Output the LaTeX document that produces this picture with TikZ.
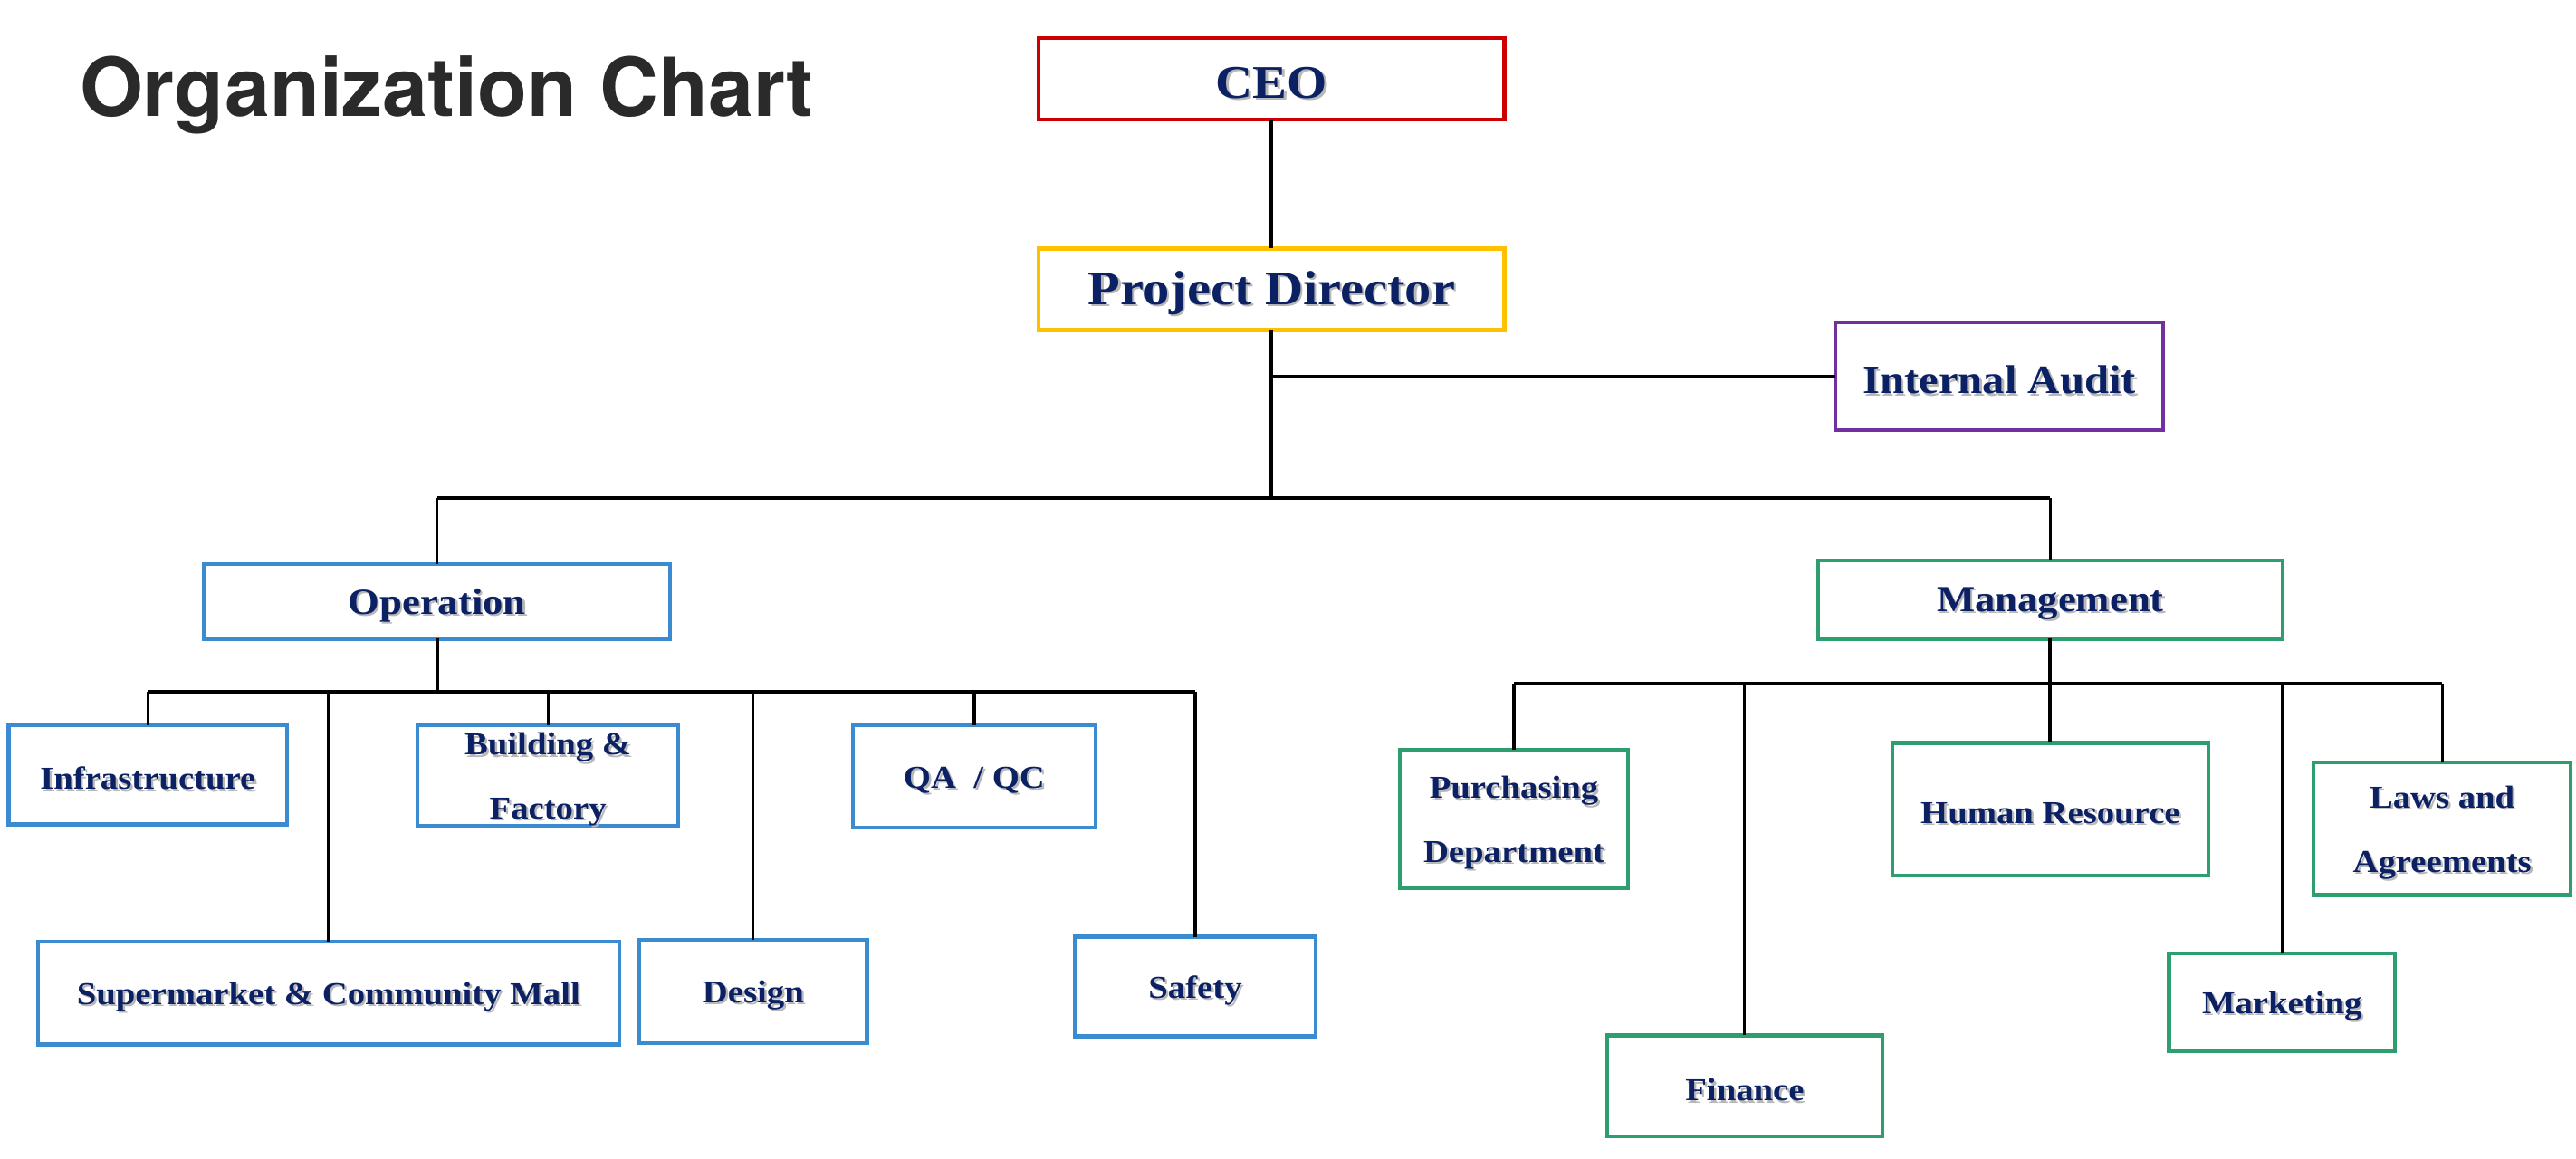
\documentclass[tikz,border=0pt]{standalone}
\usepackage{fontspec}
\setmainfont{Liberation Serif}
\newfontfamily\boxfont[FakeStretch=1.1]{Liberation Serif}
\newfontfamily\titlefont{TeX Gyre Heros}
\definecolor{txtnavy}{HTML}{0B2163}
\definecolor{ceored}{HTML}{CC0000}
\definecolor{pdyellow}{HTML}{FFC000}
\definecolor{iapurple}{HTML}{7030A0}
\definecolor{opblue}{HTML}{3A8BD0}
\definecolor{mggreen}{HTML}{2E9E6E}
\definecolor{titlegray}{HTML}{2A2A2A}
\newcommand\shd[1]{\leavevmode\raisebox{-3pt}[\height][\depth]{\rlap{\hspace{1.3pt}\raisebox{-1.3pt}{\color{black!28}#1}}#1}}
\tikzset{
  orgbox/.style={draw, line width=2.4pt, fill=white, inner sep=0pt, outer sep=0pt,
    align=center, text=txtnavy},
  bigtxt/.style={font=\boxfont\bfseries\fontsize{28.5}{34}\selectfont},
  midtxt/.style={font=\boxfont\bfseries\fontsize{22.4}{28}\selectfont},
  smalltxt/.style={font=\boxfont\bfseries\fontsize{19.4}{39}\selectfont},
  opbox/.style={orgbox, draw=opblue, smalltxt},
  mgbox/.style={orgbox, draw=mggreen, smalltxt},
  conn/.style={line width=1.7pt, draw=black},
  trunk/.style={line width=2.2pt, draw=black},
}
\begin{document}
\begin{tikzpicture}[x=1pt, y=-1pt]
\useasboundingbox (0,0) rectangle (1568,705);
\node[anchor=base west, font=\titlefont\bfseries\fontsize{49.5}{56}\selectfont, text=titlegray] (title) at (45,71) {Organization Chart};

% top levels
\node[orgbox, draw=ceored, bigtxt, minimum width=283.6, minimum height=49.6] (ceo) at (774,48) {\shd{CEO}};
\node[orgbox, draw=pdyellow, font=\boxfont\bfseries\fontsize{29.3}{34}\selectfont, minimum width=283.6, minimum height=49.6] (pd) at (774,176) {\shd{Project Director}};
\node[orgbox, draw=iapurple, font=\boxfont\bfseries\fontsize{24.4}{30}\selectfont, minimum width=199.6, minimum height=65.6] (ia) at (1217,229) {\shd{Internal Audit}};
\node[orgbox, draw=opblue, midtxt, minimum width=283.6, minimum height=45.6] (op) at (266,366) {\shd{Operation}};
\node[orgbox, draw=mggreen, midtxt, minimum width=282.6, minimum height=47.6] (mg) at (1248,365) {\shd{Management}};

% operation children
\node[opbox, minimum width=169.6, minimum height=60.6] (infra) at (90,471.5) {\shd{Infrastructure}};
\node[opbox, minimum width=158.6, minimum height=61.6] (build) at (333.5,472) {\shd{Building \&}\\\shd{Factory}};
\node[opbox, minimum width=147.6, minimum height=62.6] (qa) at (593,472.5) {\shd{QA\ \ / QC}};
\node[opbox, minimum width=353.6, minimum height=62.6] (super) at (200,604.5) {\shd{Supermarket \& Community Mall}};
\node[opbox, minimum width=138.6, minimum height=62.6] (design) at (458.5,603.5) {\shd{Design}};
\node[opbox, minimum width=146.6, minimum height=60.6] (safety) at (727.5,600.5) {\shd{Safety}};

% management children
\node[mgbox, minimum width=138.6, minimum height=84.6] (purch) at (921.5,498.5) {\shd{Purchasing}\\\shd{Department}};
\node[mgbox, minimum width=192.6, minimum height=80.6] (hr) at (1248,492.5) {\shd{Human Resource}};
\node[mgbox, minimum width=156.6, minimum height=80.6] (laws) at (1486.5,504.5) {\shd{Laws and}\\\shd{Agreements}};
\node[mgbox, minimum width=167.6, minimum height=61.6] (fin) at (1062,661) {\shd{Finance}};
\node[mgbox, minimum width=137.6, minimum height=59.6] (mkt) at (1389,610) {\shd{Marketing}};

% bus coordinates
\coordinate (topbus) at (774,303);
\coordinate (opbus) at (266,421);
\coordinate (mgbus) at (1248,416);

\draw[trunk] (ceo.south) -- (pd.north);
\draw[trunk] (pd.south) -- (topbus);
\draw[trunk] (pd.south |- ia.west) -- (ia.west);
\draw[trunk] (op.north |- topbus) -- (mg.north |- topbus);
\draw[conn] (op.north) -- (op.north |- topbus);
\draw[conn] (mg.north |- topbus) -- (mg.north);

\draw[trunk] (op.south) -- (opbus);
\draw[trunk] (infra.north |- opbus) -- (safety.north |- opbus);
\foreach \n in {infra,super,build,design,qa,safety}
  \draw[conn] (\n.north |- opbus) -- (\n.north);

\draw[trunk] (mg.south) -- (mgbus);
\draw[trunk] (purch.north |- mgbus) -- (laws.north |- mgbus);
\foreach \n in {purch,fin,hr,mkt,laws}
  \draw[conn] (\n.north |- mgbus) -- (\n.north);
\draw[trunk] (mgbus) -- (hr.north);
\end{tikzpicture}
\end{document}
